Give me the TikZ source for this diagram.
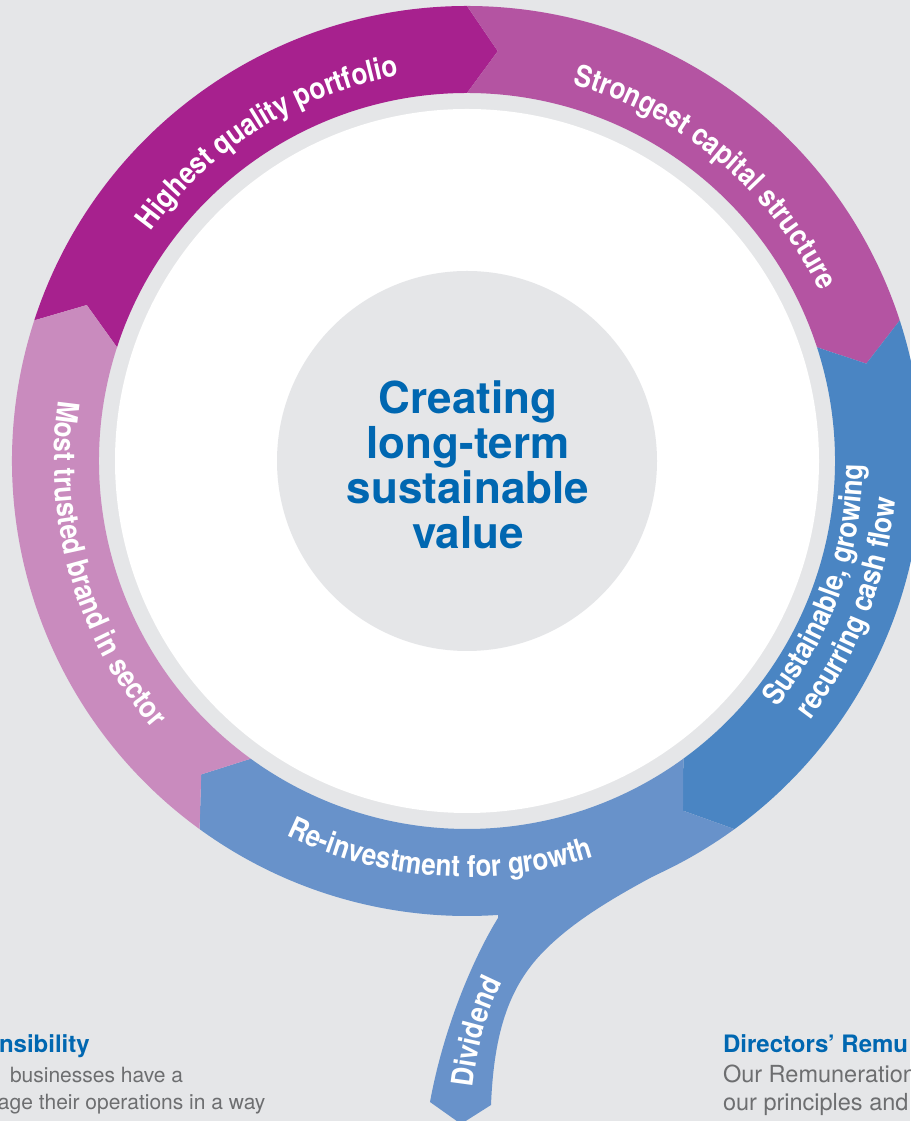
\documentclass[tikz,border=0pt]{standalone}
\usepackage{fontspec}
\setmainfont{TeX Gyre Heros}
\newfontfamily\ringfont{TeX Gyre Heros}[FakeStretch=0.87]
\usetikzlibrary{decorations.text}

\definecolor{paper}{HTML}{E5E6E8}
\definecolor{portfolioMag}{HTML}{A7218E}
\definecolor{capitalMag}{HTML}{B454A2}
\definecolor{cashBlue}{HTML}{4A85C3}
\definecolor{growthBlue}{HTML}{6892CA}
\definecolor{brandPink}{HTML}{C98BBE}
\definecolor{titleBlue}{HTML}{0067B1}
\definecolor{copyGrey}{HTML}{6D6E70}

\newcommand{\ringlbl}{\ringfont\bfseries\fontsize{30}{32}\selectfont}

\begin{document}
\begin{tikzpicture}[x=1pt, y=1pt,
            every node/.style={inner sep=0pt, outer sep=0pt},
            ringlabel/.style={decorate, decoration={text along path, text align=center,
                text color=white, text={|\ringlbl|#1}}},
            headtxt/.style={anchor=base west, text=titleBlue, font=\bfseries\fontsize{24}{28}\selectfont},
            bodytxt/.style={anchor=base west, text=copyGrey, font=\fontsize{21}{27}\selectfont}]
        \useasboundingbox (0,0) rectangle (910,1121);
        \fill[paper] (0,0) rectangle (910,1121);

        % dividend branch leaving the bottom of the ring
        \fill[growthBlue] (498,203) .. controls (478,171) and (445,101) .. (430,19)
            -- (461,-3) -- (491,16)
            .. controls (494,91) and (510,136) .. (545,171)
            .. controls (580,206) and (630,233) .. (690,264)
            -- (650,300) -- (500,230) -- cycle;
        \path[ringlabel={Dividend}] (470,0) .. controls (474,70) and (488,125) .. (520,168);

        \begin{scope}[shift={(467,660)}]
            % five arrow segments, clockwise
            \foreach \a/\col in {162/portfolioMag, 90/capitalMag, 18/cashBlue, -54/growthBlue, -126/brandPink}
                \fill[\col] (\a:455) arc[start angle=\a, end angle=\a-72, radius=455]
                    -- (\a-76.3:411) -- (\a-72:368)
                    arc[start angle=\a-72, end angle=\a, radius=368]
                    -- (\a-4.3:411) -- cycle;
            \fill[white] (0,0) circle[radius=352];
            \fill[paper] (0,0) circle[radius=190];

            \path[ringlabel={Highest quality portfolio}] (152:391) arc[start angle=152, end angle=92, radius=391];
            \path[ringlabel={Strongest capital structure}] (80:391) arc[start angle=80, end angle=20, radius=391];
            \path[ringlabel={Sustainable, growing}] (-44:396) arc[start angle=-44, end angle=5, radius=396];
            \path[ringlabel={recurring cash flow}] (-45:430) arc[start angle=-45, end angle=3, radius=430];
            \path[ringlabel={Re-investment for growth}] (-124:416) arc[start angle=-124, end angle=-64, radius=416];
            \path[ringlabel={Most trusted brand in sector}] (166:413) arc[start angle=166, end angle=226, radius=413];

            \node[align=center, text=titleBlue, font=\bfseries\fontsize{44}{45}\selectfont] (centre) at (1,-4)
                {Creating\\long-term\\sustainable\\value};
        \end{scope}

        % text columns below
        \node[headtxt] (respHead) at (-1,68) {nsibility};
        \node[bodytxt] (respLine1) at (10,38) {businesses have a};
        \node[bodytxt] (respLine2) at (-2,11) {age their operations in a way};
        \node[headtxt] (remHead) at (723,68) {Directors’ Remu};
        \node[bodytxt, font=\fontsize{23.5}{28}\selectfont] (remLine1) at (723,38) {Our Remuneration};
        \node[bodytxt, font=\fontsize{23.5}{28}\selectfont] (remLine2) at (723,10) {our principles and};
\end{tikzpicture}
\end{document}
